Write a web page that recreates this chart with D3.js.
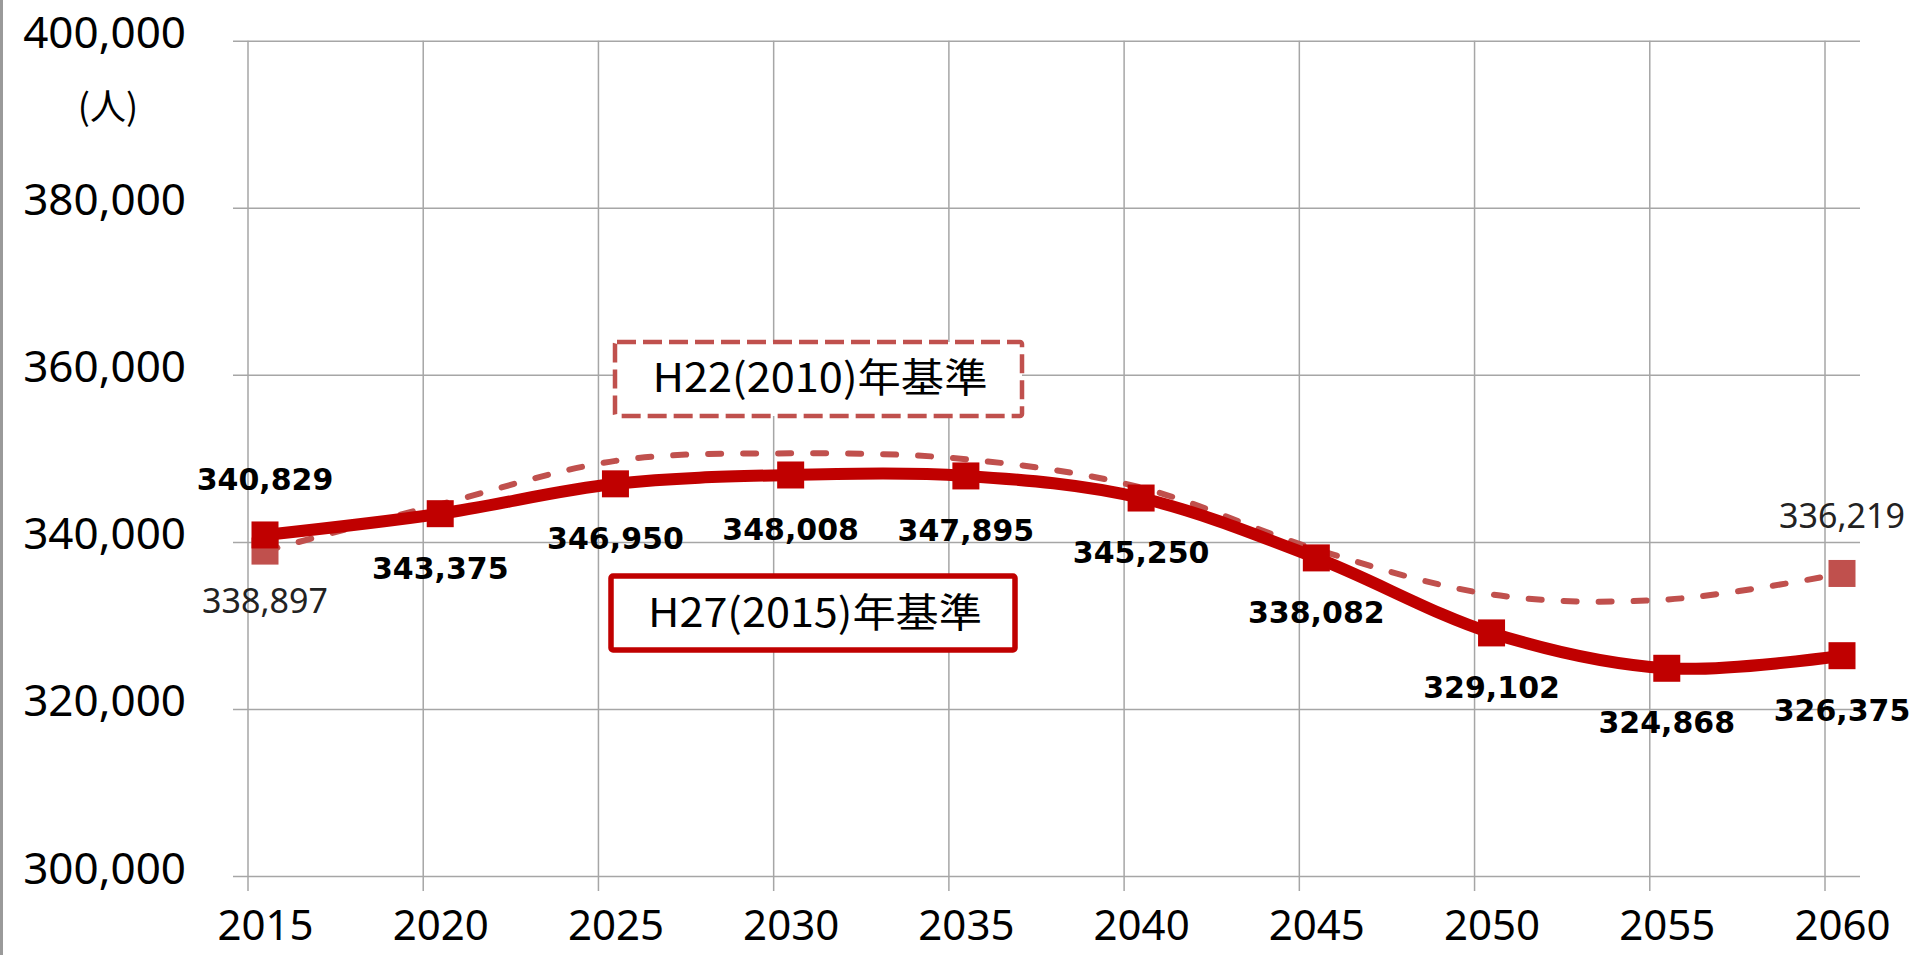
<!DOCTYPE html>
<html lang="ja">
<head>
<meta charset="utf-8">
<title>将来推計人口</title>
<script src="https://cdn.jsdelivr.net/npm/d3@7"></script>
<style>
  html, body { margin: 0; padding: 0; background: #fff; }
  #chart { width: 1915px; height: 955px; }
</style>
</head>
<body>
<div id="chart"></div>
<script>
// データ
const years = [2015, 2020, 2025, 2030, 2035, 2040, 2045, 2050, 2055, 2060];
const h27Values = [340829, 343375, 346950, 348008, 347895, 345250, 338082, 329102, 324868, 326375];
const h22Values = [338897, 344500, 349700, 350600, 349900, 346500, 339100, 333700, 333100, 336219];
const yTicks = [300000, 320000, 340000, 360000, 380000, 400000];
const h27Name = 'H27(2015)年基準';
const h22Name = 'H22(2010)年基準';
const unitLabel = '(人)';

function drawChart() {
    const width = 1915;
    const height = 955;

    // プロット領域
    const plot = { left: 233, right: 1860, top: 40.7, bottom: 876 };
    const gridShift = -17;   // 縦グリッドは点より少し左
    const tickOut = 15;

    const svg = d3.select('#chart')
        .append('svg')
        .attr('width', width)
        .attr('height', height)
        .attr('viewBox', [0, 0, width, height]);

    svg.append('rect')
        .attr('width', width).attr('height', height)
        .attr('fill', '#fff');

    // 左端の枠線
    svg.append('line')
        .attr('x1', 1.5).attr('x2', 1.5)
        .attr('y1', 0).attr('y2', height)
        .attr('stroke', '#9a9a9a')
        .attr('stroke-width', 3);

    const x = d3.scaleLinear()
        .domain([2015, 2060])
        .range([265, 1842]);

    const y = d3.scaleLinear()
        .domain([300000, 400000])
        .range([plot.bottom, plot.top]);

    // 縦グリッド
    svg.append('g')
        .selectAll('line')
        .data(years)
        .join('line')
        .attr('x1', d => x(d) + gridShift)
        .attr('x2', d => x(d) + gridShift)
        .attr('y1', plot.top)
        .attr('y2', plot.bottom + tickOut)
        .attr('stroke', '#a6a6a6')
        .attr('stroke-width', 1.5);

    // Y軸 + 横グリッド
    const yAxis = svg.append('g')
        .attr('transform', `translate(${plot.left},0)`)
        .call(d3.axisLeft(y)
            .tickValues(yTicks)
            .tickFormat(d3.format(','))
            .tickSize(-(plot.right - plot.left))
            .tickPadding(47));
    yAxis.select('.domain').remove();
    yAxis.selectAll('.tick line')
        .attr('stroke', '#a6a6a6')
        .attr('stroke-width', 1.5);
    yAxis.selectAll('.tick text')
        .attr('dy', null)
        .attr('y', 7)
        .attr('fill', '#000')
        .style('font-family', '"Noto Sans", sans-serif')
        .style('font-size', '44px');

    // X軸ラベル
    const xAxis = svg.append('g')
        .attr('transform', `translate(0,${plot.bottom})`)
        .call(d3.axisBottom(x)
            .tickValues(years)
            .tickFormat(d3.format('d'))
            .tickSize(0));
    xAxis.select('.domain').remove();
    xAxis.selectAll('.tick text')
        .attr('dy', null)
        .attr('y', 64)
        .attr('fill', '#000')
        .style('font-family', '"Noto Sans", sans-serif')
        .style('font-size', '42px');

    // 単位
    svg.append('text')
        .attr('x', 108).attr('y', 120)
        .attr('text-anchor', 'middle')
        .style('font-family', '"Noto Sans CJK JP", sans-serif')
        .style('font-size', '36px')
        .text(unitLabel);

    const line = d3.line()
        .x((d, i) => x(years[i]))
        .y(d => y(d))
        .curve(d3.curveCardinal);

    // H22 破線
    svg.append('path')
        .datum(h22Values)
        .attr('d', line)
        .attr('fill', 'none')
        .attr('stroke', '#c0504d')
        .attr('stroke-width', 6)
        .attr('stroke-linecap', 'round')
        .attr('stroke-dasharray', '13,22');

    const mk = 27;
    const h22Ends = [0, h22Values.length - 1];
    svg.append('g')
        .selectAll('rect')
        .data(h22Ends)
        .join('rect')
        .attr('x', i => x(years[i]) - mk / 2)
        .attr('y', i => y(h22Values[i]) - mk / 2)
        .attr('width', mk).attr('height', mk)
        .attr('fill', '#c0504d');

    // H27 実線
    svg.append('path')
        .datum(h27Values)
        .attr('d', line)
        .attr('fill', 'none')
        .attr('stroke', '#c00000')
        .attr('stroke-width', 12)
        .attr('stroke-linejoin', 'round');

    svg.append('g')
        .selectAll('rect')
        .data(h27Values)
        .join('rect')
        .attr('x', (d, i) => x(years[i]) - mk / 2)
        .attr('y', d => y(d) - mk / 2)
        .attr('width', mk).attr('height', mk)
        .attr('fill', '#c00000');

    // データラベル
    const fmt = d3.format(',');
    svg.append('g')
        .selectAll('text')
        .data(h27Values)
        .join('text')
        .attr('x', (d, i) => x(years[i]))
        .attr('y', (d, i) => y(d) + (i === 0 ? -45 : 65))
        .attr('text-anchor', 'middle')
        .style('font-family', '"DejaVu Sans", sans-serif')
        .style('font-weight', 'bold')
        .style('font-size', '30px')
        .text(d => fmt(d));

    svg.append('g')
        .selectAll('text')
        .data(h22Ends)
        .join('text')
        .attr('x', i => x(years[i]))
        .attr('y', i => y(h22Values[i]) + (i === 0 ? 62 : -45))
        .attr('text-anchor', 'middle')
        .style('font-family', '"Noto Sans", sans-serif')
        .style('font-size', '34px')
        .attr('fill', '#222')
        .text(i => fmt(h22Values[i]));

    // 凡例ボックス
    const boxes = [
        { name: h22Name, x: 615, y: 342, w: 407, h: 74, color: '#c0504d', sw: 4.5, dash: '19,7', tx: 820, ty: 392, tl: 335 },
        { name: h27Name, x: 611, y: 576, w: 404, h: 74, color: '#c00000', sw: 5.5, dash: null, tx: 815, ty: 627, tl: 334 }
    ];
    const box = svg.append('g')
        .selectAll('g')
        .data(boxes)
        .join('g');
    box.append('rect')
        .attr('x', d => d.x).attr('y', d => d.y)
        .attr('width', d => d.w).attr('height', d => d.h)
        .attr('rx', 2)
        .attr('fill', '#fff')
        .attr('stroke', d => d.color)
        .attr('stroke-width', d => d.sw)
        .attr('stroke-dasharray', d => d.dash);
    box.append('text')
        .attr('x', d => d.tx).attr('y', d => d.ty)
        .attr('text-anchor', 'middle')
        .attr('textLength', d => d.tl)
        .attr('lengthAdjust', 'spacingAndGlyphs')
        .style('font-family', '"Noto Sans CJK JP", sans-serif')
        .style('font-size', '40px')
        .text(d => d.name);
}

document.addEventListener('DOMContentLoaded', drawChart);
</script>
</body>
</html>
